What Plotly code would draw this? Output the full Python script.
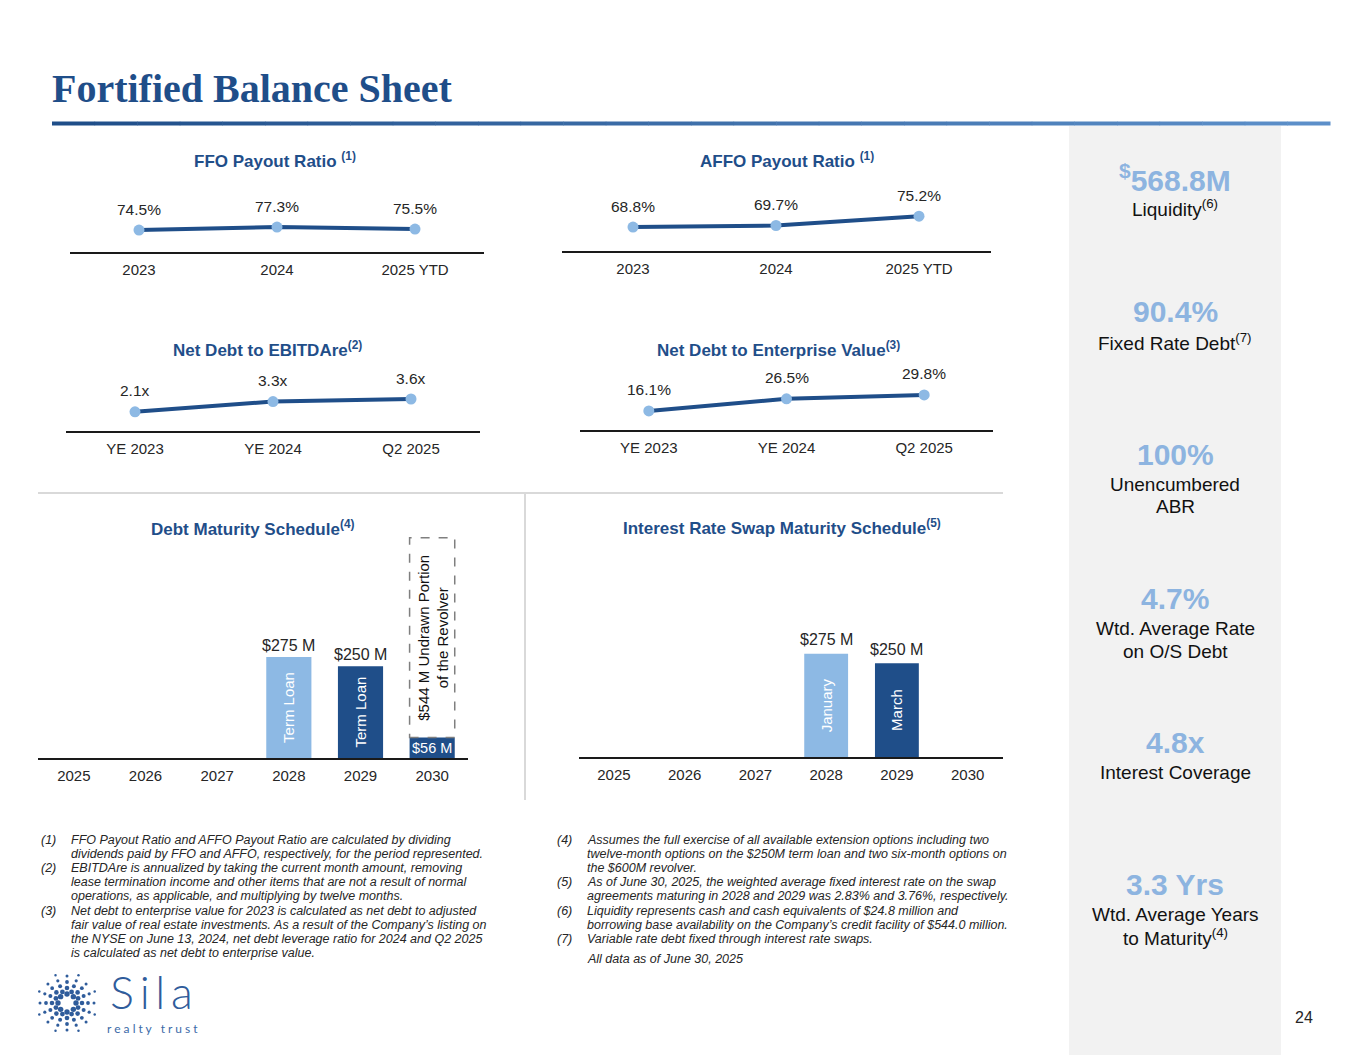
import math
import plotly.graph_objects as go

W, H = 1365, 1055


def X(px):
    return px / W


def Y(py):
    return 1 - py / H


# ---------------- data ----------------
payout_periods = ["2023", "2024", "2025 YTD"]
ffo_payout = [74.5, 77.3, 75.5]
affo_payout = [68.8, 69.7, 75.2]

leverage_periods = ["YE 2023", "YE 2024", "Q2 2025"]
net_debt_ebitdare = [2.1, 3.3, 3.6]
net_debt_ev = [16.1, 26.5, 29.8]

maturity_years = ["2025", "2026", "2027", "2028", "2029", "2030"]
debt_maturity = [None, None, None, 275, 250, 56]
debt_bar_labels = ["", "", "", "Term Loan", "Term Loan", ""]
revolver_undrawn = 544

swap_maturity = [None, None, None, 275, 250, None]
swap_bar_labels = ["", "", "", "January", "March", ""]

sidebar_values = ["<sup>$</sup>568.8M", "90.4%", "100%", "4.7%", "4.8x", "3.3 Yrs"]
sidebar_labels = [
    ["Liquidity<sup>(6)</sup>"],
    ["Fixed Rate Debt<sup>(7)</sup>"],
    ["Unencumbered", "ABR"],
    ["Wtd. Average Rate", "on O/S Debt"],
    ["Interest Coverage"],
    ["Wtd. Average Years", "to Maturity<sup>(4)</sup>"],
]

left_notes = [
    ("(1)", ["FFO Payout Ratio and AFFO Payout Ratio are calculated by dividing",
             "dividends paid by FFO and AFFO, respectively, for the period represented."]),
    ("(2)", ["EBITDAre is annualized by taking the current month amount, removing",
             "lease termination income and other items that are not a result of normal",
             "operations, as applicable, and multiplying by twelve months."]),
    ("(3)", ["Net debt to enterprise value for 2023 is calculated as net debt to adjusted",
             "fair value of real estate investments. As a result of the Company\u2019s listing on",
             "the NYSE on June 13, 2024, net debt leverage ratio for 2024 and Q2 2025",
             "is calculated as net debt to enterprise value."]),
]
right_notes = [
    ("(4)", ["Assumes the full exercise of all available extension options including two",
             "twelve-month options on the $250M term loan and two six-month options on",
             "the $600M revolver."]),
    ("(5)", ["As of June 30, 2025, the weighted average fixed interest rate on the swap",
             "agreements maturing in 2028 and 2029 was 2.83% and 3.76%, respectively."]),
    ("(6)", ["Liquidity represents cash and cash equivalents of $24.8 million and",
             "borrowing base availability on the Company\u2019s credit facility of $544.0 million."]),
    ("(7)", ["Variable rate debt fixed through interest rate swaps."]),
]

# ---------------- styles ----------------
DARK = "#1F4E89"
LIGHT = "#8DB9E4"
SIDE_NUM = "#8DB4E0"
TXT = "#262626"
FONT = "Liberation Sans, Arial, sans-serif"

fig = go.Figure()
layout = {}
annotations = []
shapes = []


def axnames(n):
    if n == 1:
        return "xaxis", "yaxis", "x", "y"
    return f"xaxis{n}", f"yaxis{n}", f"x{n}", f"y{n}"


def base_xaxis(xdom, ncat, yref):
    return dict(
        domain=[X(xdom[0]), X(xdom[1])], anchor=yref, type="category",
        range=[-0.5, ncat - 0.5], showline=True, linecolor="#1a1a1a", linewidth=1.5,
        showgrid=False, zeroline=False, ticks="", ticklabelstandoff=3,
        tickfont=dict(family=FONT, size=15, color=TXT), fixedrange=True,
    )


def line_panel(n, cats, vals, xdom, ydom, yrange, fmt):
    xa, ya, xr, yr = axnames(n)
    fig.add_trace(go.Scatter(
        x=cats, y=vals, mode="lines+markers", xaxis=xr, yaxis=yr,
        line=dict(color=DARK, width=4), marker=dict(color=LIGHT, size=11),
        hoverinfo="skip", showlegend=False, cliponaxis=False,
    ))
    layout[xa] = base_xaxis(xdom, len(cats), yr)
    layout[ya] = dict(domain=[Y(ydom[1]), Y(ydom[0])], anchor=xr, range=yrange,
                      visible=False, fixedrange=True)
    for i, v in enumerate(vals):
        annotations.append(dict(
            x=i, y=v, xref=xr, yref=yr, text=fmt(v), showarrow=False,
            yshift=21, yanchor="middle", xanchor="center",
            font=dict(family=FONT, size=15.5, color=TXT),
        ))


def bar_panel(n, cats, vals, labels, colors, xdom, ydom, yrange, bw):
    xa, ya, xr, yr = axnames(n)
    fig.add_trace(go.Bar(
        x=cats, y=vals, xaxis=xr, yaxis=yr, width=bw,
        marker=dict(color=colors, line=dict(width=0)),
        text=labels, textposition="inside", textangle=-90, insidetextanchor="middle",
        textfont=dict(family=FONT, size=15, color="white"),
        hoverinfo="skip", showlegend=False, cliponaxis=False,
    ))
    layout[xa] = base_xaxis(xdom, len(cats), yr)
    layout[ya] = dict(domain=[Y(ydom[1]), Y(ydom[0])], anchor=xr, range=yrange,
                      visible=False, fixedrange=True)
    return xr, yr


# line charts
line_panel(1, payout_periods, ffo_payout, (70, 484), (190, 252), [54, 112], lambda v: f"{v}%")
line_panel(2, payout_periods, affo_payout, (561.5, 990.5), (190, 251), [54.7, 90.6], lambda v: f"{v}%")
line_panel(3, leverage_periods, net_debt_ebitdare, (66, 480), (370, 431), [-0.15, 7.0], lambda v: f"{v}x")
line_panel(4, leverage_periods, net_debt_ev, (580, 993), (370, 430), [-0.15, 51.1], lambda v: f"{v}%")

# bar charts
debt_colors = [DARK, DARK, DARK, LIGHT, DARK, DARK]
xr5, yr5 = bar_panel(5, maturity_years, debt_maturity, debt_bar_labels, debt_colors,
                     (38, 468), (530, 758), [0, 621], 0.63)
swap_colors = [DARK, DARK, DARK, LIGHT, DARK, DARK]
xr6, yr6 = bar_panel(6, maturity_years, swap_maturity, swap_bar_labels, swap_colors,
                     (578.6, 1003), (530, 757), [0, 605], 0.62)

for i, v in enumerate(debt_maturity):
    if v is None:
        continue
    if v > 100:
        annotations.append(dict(x=i, y=v, xref=xr5, yref=yr5, text=f"${v} M", showarrow=False,
                                yshift=12, yanchor="middle",
                                font=dict(family=FONT, size=16, color=TXT)))
    else:
        annotations.append(dict(x=i, y=v / 2, xref=xr5, yref=yr5, text=f"${v} M", showarrow=False,
                                yanchor="middle", font=dict(family=FONT, size=14.5, color="white")))
        shapes.append(dict(type="rect", xref=xr5, yref=yr5, x0=i - 0.315, x1=i + 0.315,
                           y0=v, y1=v + revolver_undrawn,
                           line=dict(color="#7F7F7F", width=1.5, dash="dash"),
                           fillcolor="rgba(0,0,0,0)"))
        annotations.append(dict(x=i, y=v + revolver_undrawn / 2, xref=xr5, yref=yr5,
                                text=f"${revolver_undrawn} M Undrawn Portion<br>of the Revolver",
                                textangle=-90, showarrow=False, xshift=1,
                                font=dict(family=FONT, size=15, color="#111111")))

for i, v in enumerate(swap_maturity):
    if v is None:
        continue
    annotations.append(dict(x=i, y=v, xref=xr6, yref=yr6, text=f"${v} M", showarrow=False,
                            yshift=14, yanchor="middle",
                            font=dict(family=FONT, size=16, color=TXT)))

# ---------------- section titles ----------------
titles = [
    ("FFO Payout Ratio <sup>(1)</sup>", 275, 160),
    ("AFFO Payout Ratio <sup>(1)</sup>", 787, 160),
    ("Net Debt to EBITDAre<sup>(2)</sup>", 267, 349),
    ("Net Debt to Enterprise Value<sup>(3)</sup>", 778, 349),
    ("Debt Maturity Schedule<sup>(4)</sup>", 252, 528),
    ("Interest Rate Swap Maturity Schedule<sup>(5)</sup>", 782, 527),
]
for t, x, y in titles:
    annotations.append(dict(x=X(x), y=Y(y), xref="paper", yref="paper", text=f"<b>{t}</b>",
                            showarrow=False, xanchor="center", yanchor="middle",
                            font=dict(family=FONT, size=17, color=DARK)))

# ---------------- page title & rule ----------------
annotations.append(dict(x=X(50), y=Y(89), xref="paper", yref="paper",
                        text="<b>Fortified Balance Sheet</b>", showarrow=False,
                        xanchor="left", yanchor="middle",
                        font=dict(family="Liberation Serif, DejaVu Serif, serif", size=40, color=DARK)))
nseg = 30
x_start, x_end = 52, 1330
c0 = (31, 78, 137)
c1 = (92, 143, 201)
for k in range(nseg):
    t = k / (nseg - 1)
    col = tuple(int(round(c0[j] + (c1[j] - c0[j]) * t)) for j in range(3))
    xa = x_start + (x_end - x_start) * k / nseg
    xb = x_start + (x_end - x_start) * (k + 1) / nseg
    shapes.append(dict(type="line", xref="paper", yref="paper", x0=X(xa), x1=X(xb + 0.5),
                       y0=Y(123.5), y1=Y(123.5), line=dict(color=f"rgb{col}", width=4)))

# ---------------- separators ----------------
shapes.append(dict(type="line", xref="paper", yref="paper", x0=X(38), x1=X(1003),
                   y0=Y(493), y1=Y(493), line=dict(color="#D9D9D9", width=2)))
shapes.append(dict(type="line", xref="paper", yref="paper", x0=X(525), x1=X(525),
                   y0=Y(493), y1=Y(800), line=dict(color="#D9D9D9", width=2)))

# ---------------- sidebar ----------------
shapes.append(dict(type="rect", xref="paper", yref="paper", x0=X(1069), x1=X(1281),
                   y0=Y(1055), y1=Y(126), fillcolor="#F2F2F2", line=dict(width=0), layer="below"))
num_y = [178, 312, 454, 598, 742, 884]
for val, labs, ny in zip(sidebar_values, sidebar_labels, num_y):
    annotations.append(dict(x=X(1175), y=Y(ny), xref="paper", yref="paper", text=f"<b>{val}</b>",
                            showarrow=False, xanchor="center", yanchor="middle",
                            font=dict(family=FONT, size=30, color=SIDE_NUM)))
    for j, lab in enumerate(labs):
        annotations.append(dict(x=X(1175), y=Y(ny + 30 + 23 * j), xref="paper", yref="paper",
                                text=lab, showarrow=False, xanchor="center", yanchor="middle",
                                font=dict(family=FONT, size=19, color="#111111")))


# ---------------- footnotes ----------------
def add_notes(notes, xnum, xtxt, y0, step):
    y = y0
    for num, lines in notes:
        annotations.append(dict(x=X(xnum), y=Y(y), xref="paper", yref="paper", text=f"<i>{num}</i>",
                                showarrow=False, xanchor="left", yanchor="middle",
                                font=dict(family=FONT, size=12.5, color=TXT)))
        for ln in lines:
            annotations.append(dict(x=X(xtxt), y=Y(y), xref="paper", yref="paper", text=f"<i>{ln}</i>",
                                    showarrow=False, xanchor="left", yanchor="middle",
                                    font=dict(family=FONT, size=12.5, color=TXT)))
            y += step
    return y


add_notes(left_notes, 39, 69, 840, 14.1)
add_notes(right_notes, 555, 585, 840, 14.1)
annotations.append(dict(x=X(585), y=Y(959), xref="paper", yref="paper",
                        text="<i>All data as of June 30, 2025</i>", showarrow=False,
                        xanchor="left", yanchor="middle",
                        font=dict(family=FONT, size=12.5, color=TXT)))

# ---------------- logo ----------------
cx, cy = 67, 1003
for k in range(16):
    ang = 2 * math.pi * k / 16
    rings = [(9, 5.4), (15, 4.6), (21, 3.8), (27, 3.0)] if k % 2 == 0 else [(12, 4.8), (18, 4.0), (24, 3.2), (30, 2.5)]
    for r, d in rings:
        px_ = cx + r * math.cos(ang)
        py_ = cy + r * math.sin(ang)
        shapes.append(dict(type="circle", xref="paper", yref="paper",
                           x0=X(px_ - d / 2), x1=X(px_ + d / 2), y0=Y(py_ + d / 2), y1=Y(py_ - d / 2),
                           fillcolor="#2F5C9B", line=dict(width=0)))
annotations.append(dict(x=X(151), y=Y(992), xref="paper", yref="paper",
                        text="S\u2009i\u2009l\u2009a",
                        showarrow=False, xanchor="center", yanchor="middle",
                        font=dict(family="Lato, sans-serif", size=45, color="#2F5C9B", weight=300)))
annotations.append(dict(x=X(152), y=Y(1028), xref="paper", yref="paper",
                        text="r e a l t y   t r u s t", showarrow=False, xanchor="center",
                        yanchor="middle", font=dict(family="Lato, sans-serif", size=12, color="#3C6AA8")))

# page number
annotations.append(dict(x=X(1304), y=Y(1017), xref="paper", yref="paper", text="24",
                        showarrow=False, xanchor="center", yanchor="middle",
                        font=dict(family=FONT, size=16, color=TXT)))

fig.update_layout(
    width=W, height=H, autosize=False,
    margin=dict(l=0, r=0, t=0, b=0),
    paper_bgcolor="white", plot_bgcolor="rgba(0,0,0,0)",
    showlegend=False, barmode="overlay",
    annotations=annotations, shapes=shapes,
    font=dict(family=FONT, color=TXT),
    **layout,
)

fig.write_html("out.html", config={"displayModeBar": False},
               post_script="document.body.style.margin='0';document.body.style.overflow='hidden';")
